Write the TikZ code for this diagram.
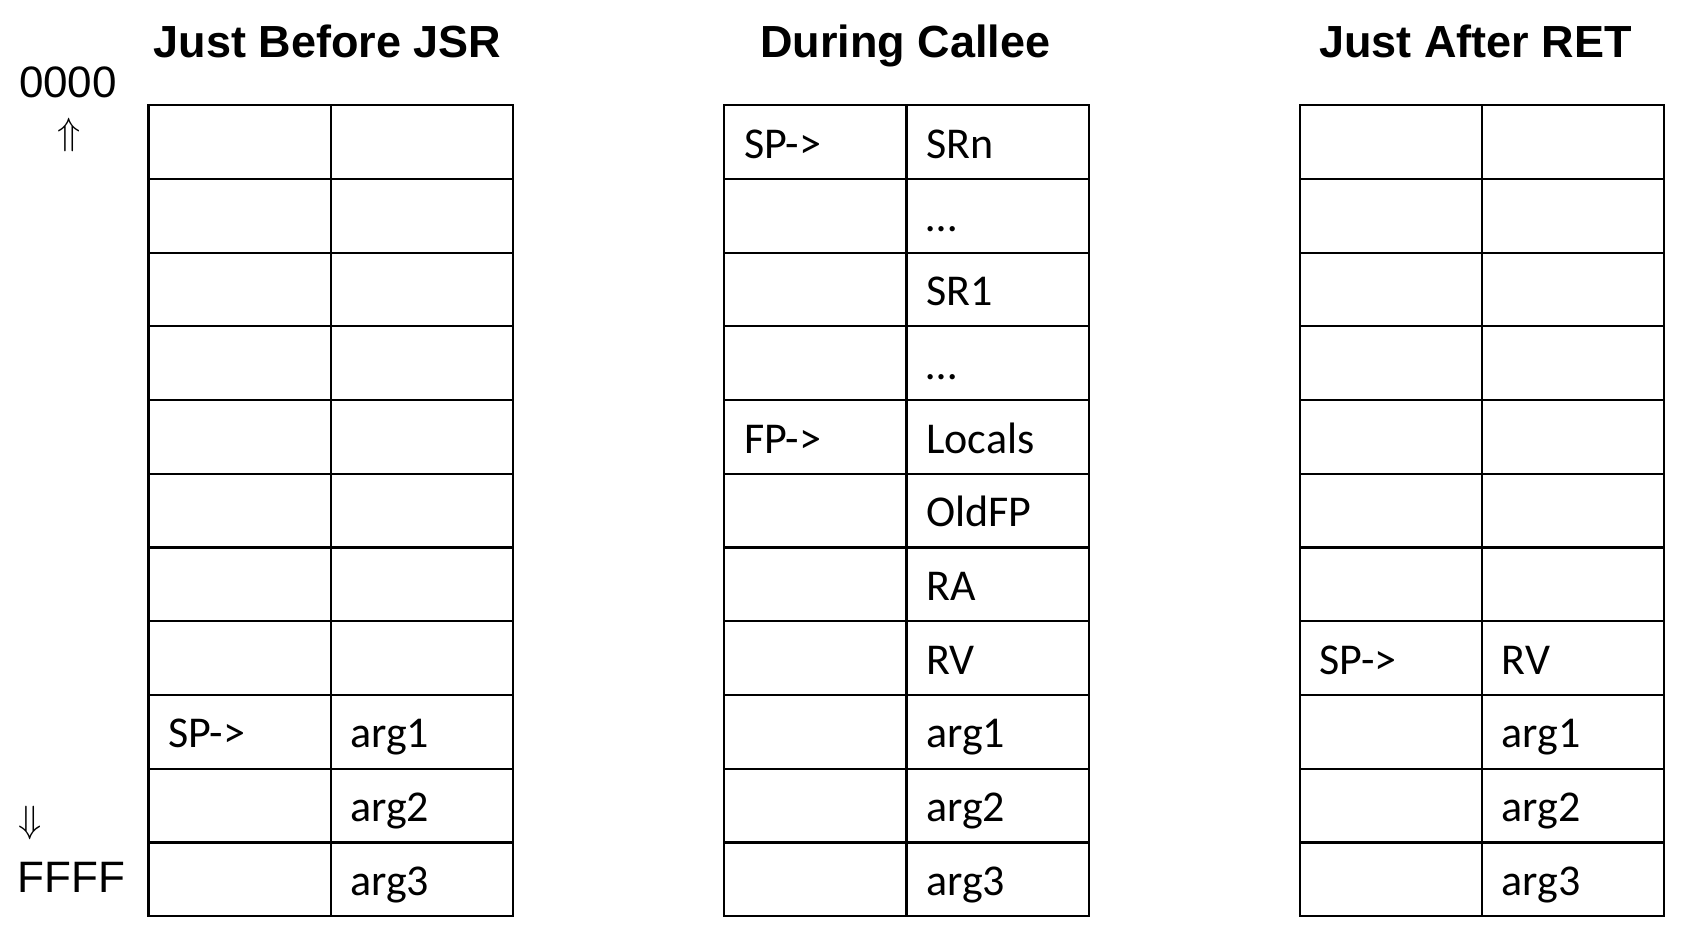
\documentclass[tikz,border=0pt]{standalone}
\usepackage{fontspec}
\setmainfont{Carlito}
\newfontfamily\arialfont{Liberation Sans}
% Stack frame grid: 11 rows x 2 columns, left edge given as #1
\newcommand\stackgrid[1]{%
  \draw[rule] (#1,105.2) rectangle ++(364.3,810.9);
  \draw[rule] (#1+182.15,105.2) -- ++(0,810.9);
  \foreach \k in {1,...,10} \draw[rule] (#1,105.2+\k*73.72) -- ++(364.3,0);
}
% Text in a cell: name, table left edge, column (0/1), row (0..10), text
\newcommand\cellat[5]{%
  \node[cell] (#1) at (#2+#3*182.15+19.5, 105.2+#4*73.72+53) {#5};
}
\begin{document}
\begin{tikzpicture}[x=1pt,y=-1pt,
  rule/.style={line width=2.2pt, black},
  cell/.style={anchor=base west, inner sep=0pt, font=\fontsize{44}{50}\selectfont},
  heading/.style={anchor=base, inner sep=0pt, font=\arialfont\bfseries\fontsize{45}{52}\selectfont},
  addr/.style={anchor=base, inner sep=0pt, font=\arialfont\fontsize{44}{50}\selectfont},
  dir/.style={inner sep=0pt, scale=3.8, font=\fontsize{10}{12}\selectfont}]
\useasboundingbox (0,0) rectangle (1700,936);

% headings
\node[heading] (h1) at (327.4,57.5) {Just Before JSR};
\node[heading] (h2) at (905.3,57.5) {During Callee};
\node[heading] (h3) at (1475.6,57.5) {Just After RET};

% address direction
\node[addr] (lo) at (68,97.6) {0000};
\node[dir] (up) at (69,135) {$\Uparrow$};
\node[dir] (down) at (30,823) {$\Downarrow$};
\node[addr] (hi) at (71.5,892) {FFFF};

% the three stacks
\stackgrid{148.5}
\stackgrid{724.3}
\stackgrid{1300}

% stack before JSR
\cellat{a-sp}{148.5}{0}{8}{SP->}
\cellat{a-arg1}{148.5}{1}{8}{arg1}
\cellat{a-arg2}{148.5}{1}{9}{arg2}
\cellat{a-arg3}{148.5}{1}{10}{arg3}

% stack during callee
\cellat{b-sp}{724.3}{0}{0}{SP->}
\cellat{b-srn}{724.3}{1}{0}{SRn}
\cellat{b-dots1}{724.3}{1}{1}{…}
\cellat{b-sr1}{724.3}{1}{2}{SR1}
\cellat{b-dots2}{724.3}{1}{3}{…}
\cellat{b-fp}{724.3}{0}{4}{FP->}
\cellat{b-loc}{724.3}{1}{4}{Locals}
\cellat{b-ofp}{724.3}{1}{5}{OldFP}
\cellat{b-ra}{724.3}{1}{6}{RA}
\cellat{b-rv}{724.3}{1}{7}{RV}
\cellat{b-arg1}{724.3}{1}{8}{arg1}
\cellat{b-arg2}{724.3}{1}{9}{arg2}
\cellat{b-arg3}{724.3}{1}{10}{arg3}

% stack after RET
\cellat{c-sp}{1300}{0}{7}{SP->}
\cellat{c-rv}{1300}{1}{7}{RV}
\cellat{c-arg1}{1300}{1}{8}{arg1}
\cellat{c-arg2}{1300}{1}{9}{arg2}
\cellat{c-arg3}{1300}{1}{10}{arg3}
\end{tikzpicture}
\end{document}
